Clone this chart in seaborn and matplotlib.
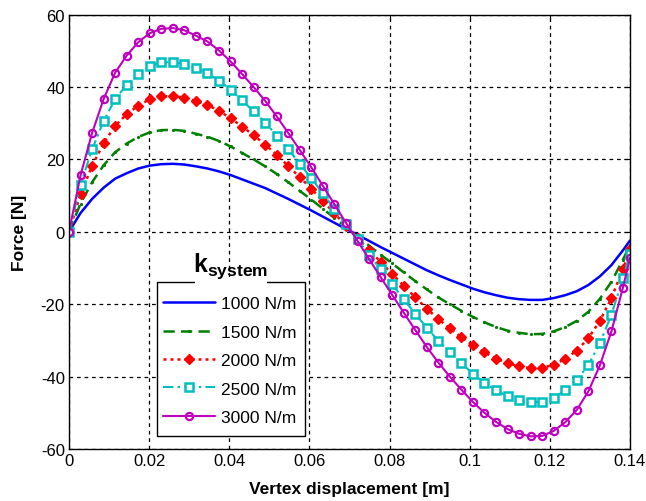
import matplotlib
matplotlib.use("Agg")
import matplotlib.pyplot as plt
from matplotlib.patches import Rectangle
import seaborn as sns

# ---- data ----
x_disp = [0.0, 0.00288, 0.00576, 0.00864, 0.01152, 0.0144, 0.01728, 0.02016, 0.02304, 0.02592,
          0.0288, 0.03168, 0.03456, 0.03744, 0.04032, 0.0432, 0.04608, 0.04896, 0.05184, 0.05472,
          0.0576, 0.06048, 0.06336, 0.06624, 0.06912, 0.072, 0.07488, 0.07776, 0.08064, 0.08352,
          0.0864, 0.08928, 0.09216, 0.09504, 0.09792, 0.1008, 0.10368, 0.10656, 0.10944, 0.11232,
          0.1152, 0.11808, 0.12096, 0.12384, 0.12672, 0.1296, 0.13248, 0.13536, 0.13824, 0.14]

f_1000 = [0, 5.2, 9.1, 12.2, 14.7, 16.2, 17.5, 18.3, 18.7, 18.8,
          18.6, 18.1, 17.5, 16.7, 15.7, 14.5, 13.3, 12.1, 10.6, 9.1,
          7.5, 5.9, 4.2, 2.5, 0.8, -0.8, -2.5, -4.2, -5.8, -7.4,
          -9.0, -10.6, -12.0, -13.3, -14.5, -15.7, -16.7, -17.5, -18.2, -18.6,
          -18.8, -18.8, -18.3, -17.5, -16.4, -14.7, -12.3, -9.2, -5.1, -2.4]

f_1500 = [0, 7.8, 13.7, 18.4, 22.0, 24.4, 26.2, 27.5, 28.1, 28.2,
          27.9, 27.1, 26.3, 25.1, 23.6, 21.8, 20.0, 18.1, 16.0, 13.7,
          11.3, 8.9, 6.4, 3.8, 1.3, -1.3, -3.8, -6.3, -8.7, -11.2,
          -13.6, -15.9, -18.1, -20.0, -21.8, -23.5, -25.0, -26.3, -27.3, -27.9,
          -28.3, -28.2, -27.5, -26.3, -24.6, -22.1, -18.5, -13.8, -7.7, -3.6]

f_2000 = [0, 10.4, 18.2, 24.5, 29.3, 32.5, 34.9, 36.6, 37.4, 37.5,
          37.1, 36.1, 35.1, 33.4, 31.4, 29.1, 26.7, 24.1, 21.3, 18.2,
          15.1, 11.9, 8.5, 5.1, 1.7, -1.7, -5.0, -8.3, -11.6, -14.9,
          -18.1, -21.2, -24.1, -26.7, -29.1, -31.3, -33.3, -35.0, -36.3, -37.2,
          -37.7, -37.6, -36.7, -35.1, -32.8, -29.4, -24.6, -18.3, -10.3, -4.8]

f_2500 = [0, 13.0, 22.8, 30.6, 36.7, 40.6, 43.7, 45.8, 46.8, 46.9,
          46.4, 45.2, 43.8, 41.8, 39.3, 36.3, 33.3, 30.2, 26.6, 22.8,
          18.8, 14.8, 10.6, 6.3, 2.1, -2.1, -6.3, -10.4, -14.5, -18.6,
          -22.6, -26.5, -30.1, -33.3, -36.3, -39.2, -41.7, -43.8, -45.4, -46.5,
          -47.1, -47.0, -45.8, -43.8, -41.0, -36.8, -30.8, -22.9, -12.8, -6.0]

f_3000 = [0, 15.6, 27.3, 36.7, 44.0, 48.7, 52.4, 54.9, 56.1, 56.3,
          55.7, 54.2, 52.6, 50.1, 47.1, 43.6, 40.0, 36.2, 31.9, 27.3,
          22.6, 17.8, 12.7, 7.6, 2.5, -2.5, -7.5, -12.5, -17.4, -22.3,
          -27.1, -31.8, -36.1, -40.0, -43.6, -47.0, -50.0, -52.5, -54.5, -55.8,
          -56.5, -56.4, -55.0, -52.6, -49.2, -44.1, -36.9, -27.5, -15.4, -7.2]

labels = ["1000 N/m", "1500 N/m", "2000 N/m", "2500 N/m", "3000 N/m"]
x_ticks = [0, 0.02, 0.04, 0.06, 0.08, 0.1, 0.12, 0.14]
x_tick_labels = ["0", "0.02", "0.04", "0.06", "0.08", "0.1", "0.12", "0.14"]
y_ticks = [-60, -40, -20, 0, 20, 40, 60]

# ---- style ----
sns.set_style("white")
plt.rcParams["font.family"] = ["Liberation Sans", "DejaVu Sans"]
plt.rcParams["axes.unicode_minus"] = False
plt.rcParams["text.color"] = "black"
plt.rcParams["axes.labelcolor"] = "black"
plt.rcParams["mathtext.fontset"] = "custom"
plt.rcParams["mathtext.bf"] = "Liberation Sans:bold"
plt.rcParams["mathtext.rm"] = "Liberation Sans"

fig = plt.figure(figsize=(6.46, 5.02), dpi=100)
ax = fig.add_axes([69 / 646, 1 - 450 / 502, (630 - 69) / 646, (450 - 15.7) / 502])

blue = (0, 0, 1)
green = (0, 0.5, 0)
red = (1, 0, 0)
cyan = (0, 0.75, 0.75)
magenta = (0.75, 0, 0.75)

styles = [
    dict(color=blue, linestyle="-", linewidth=1.8),
    dict(color=green, linestyle=(0, (4.5, 2.5)), linewidth=1.8, marker=".", markersize=3,
         markeredgecolor=green, markerfacecolor=green),
    dict(color=red, linestyle=(0, (1.2, 1.6)), linewidth=1.8, marker="D", markersize=5,
         markerfacecolor=red, markeredgecolor=red, markeredgewidth=1.0),
    dict(color=cyan, linestyle=(0, (5, 2, 1.2, 2)), linewidth=1.5, marker="s", markersize=6,
         markerfacecolor="white", markeredgecolor=cyan, markeredgewidth=1.8),
    dict(color=magenta, linestyle="-", linewidth=1.5, marker="o", markersize=5.2,
         markerfacecolor="none", markeredgecolor=magenta, markeredgewidth=1.6),
]
series = [f_1000, f_1500, f_2000, f_2500, f_3000]
for ys, lab, st in zip(series, labels, styles):
    sns.lineplot(x=x_disp, y=ys, ax=ax, label=lab, estimator=None, sort=False, **st)

ax.set_xlim(0, 0.14)
ax.set_ylim(-60, 60)
ax.set_xticks(x_ticks)
ax.set_xticklabels(x_tick_labels)
ax.set_yticks(y_ticks)
ax.tick_params(direction="in", length=4, width=0.8, top=True, right=True,
               labelsize=12, colors="black", pad=3)
ax.grid(True, color="black", linestyle=(0, (3, 3)), linewidth=0.9)
for sp in ax.spines.values():
    sp.set_color("black")
    sp.set_linewidth(1.0)

ax.set_xlabel("Vertex displacement [m]", fontsize=12.5, fontweight="bold", labelpad=9,
              color="black")
ax.set_ylabel("Force [N]", fontsize=12.5, fontweight="bold", labelpad=10, color="black")

# legend entries (frame drawn separately so the title can sit in a gap of its top edge)
leg = ax.legend(loc="upper left", bbox_to_anchor=(155 / 646, 1 - 289.5 / 502),
                bbox_transform=fig.transFigure, borderaxespad=0, frameon=False,
                fontsize=12.5, handlelength=3.0, handletextpad=0.35,
                labelspacing=0.76, borderpad=0.45, labelcolor="black")

frame_l, frame_r, frame_t, frame_b = 157, 305, 283, 437
fig.add_artist(Rectangle((frame_l / 646, 1 - frame_b / 502), (frame_r - frame_l) / 646,
                         (frame_b - frame_t) / 502, transform=fig.transFigure,
                         facecolor="white", edgecolor="black", linewidth=1.0, zorder=5))
# legend must be drawn above the white box: move it to the figure
leg.remove()
fig.legends.append(leg)
leg.set_figure(fig)
leg.set_zorder(10)

# gap in the top border under the title
fig.add_artist(Rectangle((195 / 646, 1 - 285 / 502), (267 - 195) / 646, 4 / 502,
                         transform=fig.transFigure, facecolor="white", edgecolor="none",
                         zorder=20))
fig.text(231 / 646, 1 - 281 / 502, r"$\mathbf{k_{system}}$", fontsize=18,
         ha="center", va="bottom", zorder=21, color="black")

fig.savefig("out.png", dpi=100, facecolor="white")
